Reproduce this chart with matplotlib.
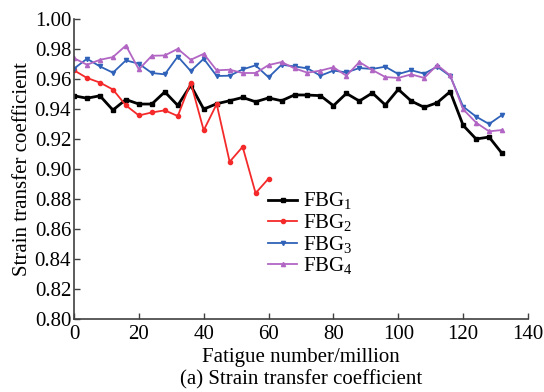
import matplotlib
matplotlib.use("Agg")
import matplotlib.pyplot as plt
import numpy as np

plt.rcParams['font.family'] = ['Liberation Serif', 'DejaVu Serif']
plt.rcParams['mathtext.fontset'] = 'custom'
plt.rcParams['mathtext.rm'] = 'Liberation Serif'

x_full = list(range(0, 133, 4))
x_fbg2 = list(range(0, 61, 4))

fbg1 = [0.9488, 0.9472, 0.9488, 0.9393, 0.9463, 0.9433, 0.9433, 0.9514, 0.9424, 0.9558,
        0.9399, 0.9435, 0.9455, 0.9477, 0.9448, 0.9474, 0.9455, 0.9494, 0.9493, 0.9489,
        0.9422, 0.9504, 0.9453, 0.9507, 0.9427, 0.9531, 0.9453, 0.9411, 0.9442, 0.9516,
        0.9291, 0.9200, 0.9213, 0.9104]
fbg2 = [0.9658, 0.9607, 0.9576, 0.9530, 0.9424, 0.9357, 0.9377, 0.9391, 0.9353, 0.9576,
        0.9258, 0.9433, 0.9048, 0.9148, 0.8839, 0.8936]
fbg3 = [0.9669, 0.9735, 0.9684, 0.9642, 0.9724, 0.9702, 0.9640, 0.9631, 0.9750, 0.9653,
        0.9735, 0.9620, 0.9622, 0.9664, 0.9691, 0.9611, 0.9695, 0.9684, 0.9671, 0.9622,
        0.9656, 0.9644, 0.9673, 0.9667, 0.9682, 0.9633, 0.9658, 0.9636, 0.9682, 0.9620,
        0.9416, 0.9349, 0.9300, 0.9360]
fbg4 = [0.9739, 0.9695, 0.9728, 0.9746, 0.9823, 0.9664, 0.9755, 0.9757, 0.9801, 0.9728,
        0.9768, 0.9658, 0.9662, 0.9640, 0.9640, 0.9693, 0.9713, 0.9671, 0.9642, 0.9656,
        0.9678, 0.9622, 0.9713, 0.9660, 0.9613, 0.9607, 0.9631, 0.9607, 0.9693, 0.9624,
        0.9398, 0.9309, 0.9251, 0.9260]

labels = ['FBG$_1$', 'FBG$_2$', 'FBG$_3$', 'FBG$_4$']
x_ticks = [0, 20, 40, 60, 80, 100, 120, 140]
y_ticks = [0.80, 0.82, 0.84, 0.86, 0.88, 0.90, 0.92, 0.94, 0.96, 0.98, 1.00]

fig = plt.figure(figsize=(5.44, 3.92), dpi=100)
ax = fig.add_axes([74/544, 1 - 319/392, (528-74)/544, (319-19)/392])

ax.plot(x_full, fbg1, color='black', lw=2.0, marker='s', ms=3.5, label=labels[0])
ax.plot(x_fbg2, fbg2, color='#F42A2A', lw=1.3, marker='o', ms=3, label=labels[1])
ax.plot(x_full, fbg3, color='#2F62B8', lw=1.3, marker='v', ms=3, label=labels[2])
ax.plot(x_full, fbg4, color='#B266C4', lw=1.3, marker='^', ms=3, label=labels[3])

ax.set_xlim(0, 140)
ax.set_ylim(0.80, 1.00)
ax.set_xticks(x_ticks)
ax.set_yticks(y_ticks)
ax.set_yticklabels([f'{v:.2f}' for v in y_ticks])
for s in ['top', 'right']:
    ax.spines[s].set_visible(False)
for s in ['left', 'bottom']:
    ax.spines[s].set_color('#404040')
    ax.spines[s].set_linewidth(1.2)
ax.tick_params(direction='in', length=4, width=1.0, color='#404040', labelsize=15, pad=2)
ax.tick_params(axis='x', pad=4)

ax.set_xlabel('Fatigue number/million\n(a) Strain transfer coefficient', fontsize=15, linespacing=1.25, labelpad=3)
ax.set_ylabel('Strain transfer coefficient', fontsize=15, labelpad=2)

leg = ax.legend(loc='upper left', bbox_to_anchor=(0.409, 0.455), frameon=False, fontsize=15,
                handlelength=1.4, handletextpad=0.3, labelspacing=0.0, borderaxespad=0)

fig.savefig('out.png', dpi=100)
